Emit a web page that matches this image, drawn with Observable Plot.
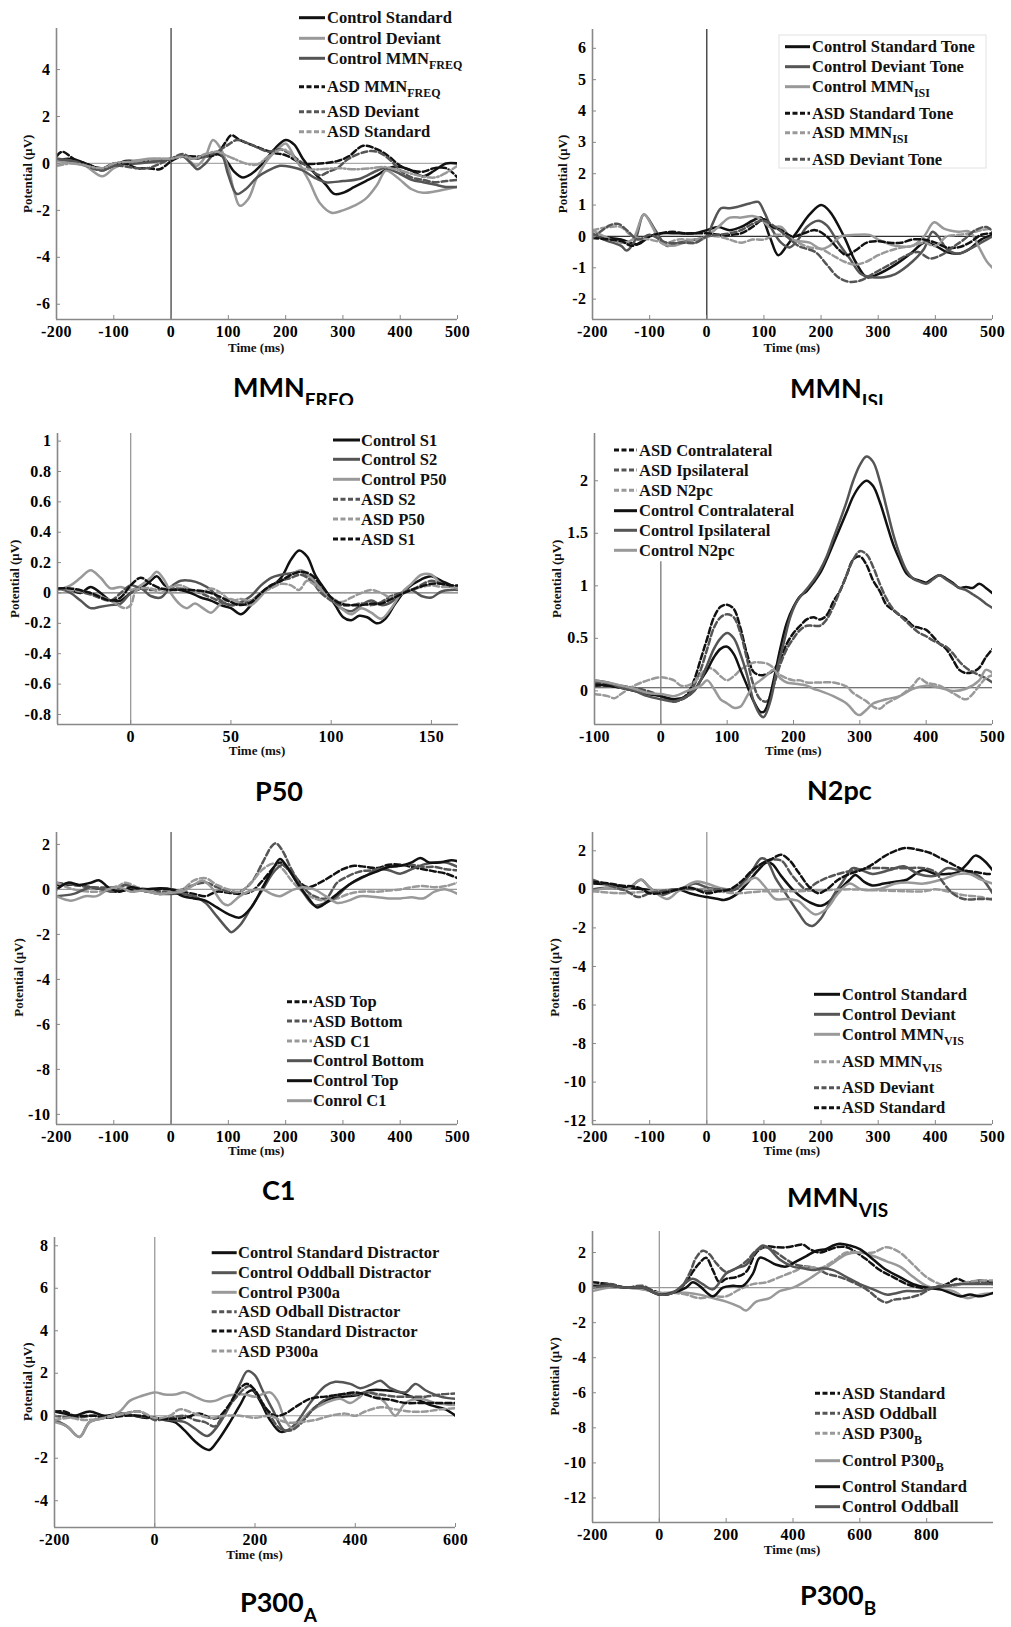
<!DOCTYPE html>
<html><head><meta charset="utf-8">
<script src="https://cdn.jsdelivr.net/npm/d3@7"></script>
<script src="https://cdn.jsdelivr.net/npm/@observablehq/plot@0.6"></script>
<style>
html,body{margin:0;padding:0;background:#fff;}
#page{position:relative;width:1011px;height:1627px;overflow:hidden;background:#fff;}
.panel{position:absolute;}
#overlay{position:absolute;left:0;top:0;pointer-events:none;}
</style></head><body><div id="page"></div>
<script>
// ---------- DATA: [time (ms), potential (µV)] ----------
// MMN FREQ
const freqCtrlStd = [[-200,0.1],[-180,0.2],[-160,0.1],[-140,-0.1],[-120,-0.25],[-100,-0.1],[-80,0.1],[-60,0.1],[-40,0.1],[-20,0.1],[0,0.2],[20,0.3],[40,0.2],[60,0.3],[80,0.4],[90,0.3],[100,0],[110,-0.35],[125,-0.6],[140,-0.45],[160,0],[180,0.6],[200,1.0],[215,0.8],[230,0.2],[250,-0.4],[270,-0.9],[285,-1.3],[300,-1.25],[320,-1.0],[340,-0.75],[360,-0.5],[380,-0.2],[400,-0.15],[420,-0.3],[440,-0.55],[460,-0.3],[480,0],[500,0]];
const freqCtrlDev = [[-200,0.1],[-170,0.0],[-150,-0.1],[-120,-0.55],[-100,-0.2],[-80,0],[-40,0.2],[0,0.2],[20,0.3],[35,0.05],[45,-0.1],[60,0.3],[73,1.0],[85,0.7],[100,-0.2],[110,-1.2],[120,-1.8],[135,-1.5],[150,-0.6],[170,0.2],[190,0.7],[200,0.85],[215,0.3],[240,-0.7],[260,-1.7],[280,-2.1],[300,-2.0],[320,-1.8],[340,-1.5],[360,-0.9],[375,-0.3],[390,-0.5],[400,-0.7],[420,-1.1],[440,-1.25],[460,-1.2],[480,-1.1],[500,-1.0]];
const freqCtrlMMN = [[-200,0.2],[-170,0.1],[-150,0],[-120,-0.3],[-100,-0.1],[-60,0],[-20,0.1],[0,0.2],[20,0.3],[35,0.0],[46,-0.25],[60,0.0],[80,0.5],[90,0.3],[100,-0.5],[115,-1.3],[130,-1.1],[150,-0.6],[170,-0.3],[190,-0.1],[210,-0.15],[230,-0.3],[250,-0.6],[270,-0.8],[300,-0.75],[330,-0.65],[360,-0.3],[375,-0.2],[400,-0.45],[420,-0.7],[440,-0.8],[460,-0.9],[480,-1.0],[500,-1.0]];
const freqAsdMMN = [[-200,0.3],[-190,0.5],[-170,0.2],[-150,0],[-120,-0.2],[-100,0],[-80,0],[-60,-0.2],[-40,-0.2],[-20,-0.25],[-10,-0.1],[0,0.1],[20,0.3],[40,0.3],[60,0.3],[80,0.4],[95,0.9],[105,1.2],[120,1.0],[150,0.7],[180,0.45],[200,0.35],[230,0],[260,0],[290,0.1],[310,0.3],[335,0.75],[360,0.6],[380,0.3],[400,-0.1],[420,-0.3],[440,-0.35],[460,-0.2],[480,-0.2],[500,-0.6]];
const freqAsdDev = [[-200,0.2],[-170,0.1],[-120,-0.3],[-100,-0.1],[-60,-0.2],[-40,-0.2],[0,0.2],[20,0.4],[40,0.2],[60,0.3],[80,0.5],[100,0.8],[115,1.0],[140,0.8],[170,0.5],[190,0.6],[205,0.45],[230,0],[260,-0.5],[275,-0.35],[290,-0.2],[310,0.2],[340,0.5],[360,0.5],[380,0.2],[400,-0.3],[420,-0.6],[440,-0.7],[460,-0.8],[480,-0.75],[500,-0.7]];
const freqAsdStd = [[-200,-0.1],[-170,0],[-120,-0.2],[-100,0],[-60,0.1],[-20,0.2],[0,0.2],[20,0.3],[40,0.2],[60,0.4],[80,0.5],[100,0.3],[110,0.2],[130,0],[150,-0.05],[170,0.3],[195,0.6],[210,0.4],[230,-0.2],[260,-0.25],[290,-0.2],[320,-0.25],[350,-0.2],[370,-0.15],[400,-0.3],[430,-0.5],[460,-0.6],[480,-0.4],[500,-0.1]];
// MMN ISI
const isiCtrlStd = [[-200,0],[-150,-0.1],[-121,-0.25],[-100,0],[-80,0.1],[-50,0.1],[-20,0.1],[0,0.2],[20,0.3],[40,0.2],[60,0.3],[80,0.5],[95,0.6],[110,0],[125,-0.6],[140,-0.3],[160,0.2],[180,0.7],[200,1.0],[215,0.8],[240,0],[260,-0.8],[280,-1.3],[300,-1.2],[330,-0.9],[360,-0.5],[380,-0.2],[400,-0.3],[420,-0.5],[440,-0.55],[460,-0.4],[480,-0.1],[500,0.05]];
const isiCtrlDev = [[-200,0.1],[-180,-0.1],[-150,-0.3],[-140,-0.45],[-125,-0.1],[-110,0.7],[-90,0.2],[-70,-0.3],[-50,-0.2],[-20,-0.1],[0,0],[10,0.4],[25,0.9],[40,0.9],[55,0.95],[75,1.05],[90,1.1],[100,0.8],[115,0.2],[130,-0.2],[145,-0.35],[160,-0.1],[175,0.3],[195,0.5],[210,0.35],[230,-0.2],[250,-0.7],[270,-1.2],[290,-1.3],[310,-1.3],[330,-1.2],[360,-0.8],[380,-0.4],[395,0.15],[405,0],[420,-0.4],[440,-0.55],[460,-0.4],[480,-0.2],[500,0]];
const isiCtrlMMN = [[-200,0.2],[-180,0],[-150,-0.2],[-130,-0.1],[-110,0.7],[-95,0.3],[-80,-0.2],[-60,-0.3],[-40,-0.2],[-20,-0.2],[0,0],[20,0.3],[40,0.6],[60,0.6],[80,0.65],[95,0.55],[110,0.3],[130,0.3],[150,-0.1],[180,-0.2],[200,-0.4],[215,-0.3],[235,0],[260,0.05],[285,0.05],[300,-0.1],[330,-0.3],[360,-0.3],[380,0],[398,0.45],[415,0.25],[440,0.15],[460,0.15],[475,-0.3],[490,-0.8],[500,-1.0]];
const isiAsdStd = [[-200,-0.05],[-150,-0.15],[-130,-0.3],[-100,0],[-80,0.1],[-60,0.15],[-40,0.1],[-20,0.1],[0,0.1],[20,0.05],[40,0.05],[60,0.1],[80,0.3],[100,0.55],[115,0.3],[130,0.2],[150,0],[170,0.1],[190,0.2],[210,0],[230,-0.4],[245,-0.6],[260,-0.45],[280,-0.2],[300,-0.15],[320,-0.2],[340,-0.2],[360,-0.1],[380,-0.1],[400,-0.2],[420,-0.35],[440,-0.35],[460,-0.2],[480,0.05],[500,0.1]];
const isiAsdMMN = [[-200,0.2],[-170,0.3],[-150,0.3],[-130,0],[-100,-0.1],[-70,-0.2],[-50,-0.1],[-20,-0.1],[0,0],[20,0],[40,-0.1],[60,-0.2],[80,-0.1],[100,-0.1],[120,0.05],[140,0],[160,-0.2],[180,-0.35],[200,-0.4],[220,-0.6],[240,-0.8],[260,-0.9],[280,-0.8],[300,-0.6],[330,-0.4],[360,-0.3],[380,-0.2],[400,-0.3],[420,0],[440,0.05],[460,0.1],[480,0.2],[500,0.25]];
const isiAsdDev = [[-200,-0.05],[-170,0.35],[-155,0.4],[-140,0.2],[-120,-0.1],[-100,0.05],[-70,-0.2],[-40,-0.2],[-20,-0.2],[0,0],[20,0.05],[40,0.1],[60,0.2],[80,0.4],[100,0.5],[120,0.3],[140,0],[160,-0.3],[190,-0.5],[210,-0.9],[230,-1.3],[250,-1.45],[270,-1.4],[290,-1.2],[310,-1.0],[330,-0.8],[350,-0.6],[370,-0.5],[390,-0.7],[410,-0.6],[430,-0.35],[450,-0.1],[470,0.2],[490,0.3],[500,0.15]];
// P50
const p50CtrlS1 = [[-36,0.03],[-30,0.02],[-25,0],[-20,0.04],[-15,0],[-10,-0.05],[-5,-0.05],[0,0],[5,0.03],[10,0.08],[13,0.11],[17,0.05],[20,0.03],[25,0.02],[30,0],[35,-0.03],[40,-0.05],[45,-0.08],[50,-0.1],[55,-0.14],[60,-0.08],[65,0],[70,0.04],[75,0.1],[80,0.22],[84,0.28],[88,0.24],[92,0.12],[97,0.02],[102,-0.08],[106,-0.16],[110,-0.18],[114,-0.15],[118,-0.16],[123,-0.2],[127,-0.17],[132,-0.07],[138,0.03],[145,0.09],[150,0.11],[155,0.08],[160,0.05],[163,0.04]];
const p50CtrlS2 = [[-36,0.03],[-30,0],[-25,-0.05],[-20,-0.1],[-15,-0.09],[-10,-0.08],[-5,-0.07],[0,0],[5,0.03],[10,-0.02],[15,-0.03],[20,0.04],[25,0.08],[30,0.08],[35,0.06],[40,0.02],[45,-0.05],[50,-0.08],[55,-0.06],[60,-0.02],[65,0.05],[70,0.1],[75,0.12],[80,0.13],[85,0.14],[90,0.1],[95,0.02],[100,-0.04],[105,-0.1],[110,-0.12],[115,-0.08],[120,-0.05],[125,-0.08],[130,-0.06],[135,0],[140,0.02],[145,-0.02],[150,-0.03],[155,0.01],[160,0.02],[163,0.02]];
const p50CtrlP50 = [[-36,0.02],[-30,0.05],[-25,0.1],[-20,0.15],[-15,0.1],[-10,0.03],[-5,0.04],[0,0.02],[5,0.05],[10,0.1],[13,0.14],[17,0.08],[20,0],[25,-0.08],[28,-0.1],[32,-0.07],[36,-0.1],[40,-0.13],[45,-0.07],[50,-0.04],[55,-0.07],[60,-0.08],[65,-0.02],[70,0.05],[75,0.08],[80,0.12],[85,0.15],[90,0.1],[95,0.03],[100,-0.04],[105,-0.1],[110,-0.14],[115,-0.1],[120,-0.13],[125,-0.17],[130,-0.1],[135,0],[140,0.06],[145,0.12],[150,0.12],[155,0.06],[160,0.04],[163,0.03]];
const p50AsdS2 = [[-36,0.03],[-30,0.02],[-20,-0.01],[-10,-0.05],[-5,0],[0,0.05],[5,0.03],[10,0.02],[20,0.03],[30,0.02],[40,-0.03],[50,-0.08],[55,-0.07],[60,-0.05],[65,0],[70,0.05],[75,0.08],[80,0.1],[85,0.12],[90,0.08],[95,0],[100,-0.05],[105,-0.08],[110,-0.08],[115,-0.07],[120,-0.08],[125,-0.06],[130,-0.02],[140,0.02],[150,0.08],[155,0.06],[160,0.04],[163,0.04]];
const p50AsdP50 = [[-36,0.03],[-30,0.02],[-20,0],[-10,-0.05],[-3,-0.1],[0,-0.08],[3,0.02],[10,0.03],[15,0],[20,0.04],[25,0.05],[30,0.02],[35,0],[40,0.03],[45,0],[50,-0.05],[55,-0.04],[60,-0.05],[65,0],[70,0.03],[75,0.06],[80,0.05],[84,0.02],[88,0.08],[92,0.05],[97,0],[100,-0.03],[105,-0.06],[110,-0.03],[115,0],[120,0.02],[125,0],[130,-0.03],[140,0.02],[150,0.05],[155,0.04],[160,0.04],[163,0.04]];
const p50AsdS1 = [[-36,0.03],[-30,0.03],[-20,0],[-10,-0.05],[-5,-0.03],[0,0.05],[5,0.1],[10,0.06],[15,0.03],[20,0.02],[30,0.02],[40,0],[50,-0.06],[55,-0.08],[60,-0.06],[65,0],[70,0.05],[75,0.08],[80,0.12],[85,0.14],[90,0.12],[95,0.05],[100,-0.03],[105,-0.07],[110,-0.08],[115,-0.08],[120,-0.07],[125,-0.07],[130,-0.04],[140,0.02],[150,0.06],[155,0.06],[160,0.05],[163,0.05]];
// N2pc
const n2pcAsdContra = [[-100,0.05],[-80,0.05],[-60,0.03],[-40,0.02],[-20,-0.02],[0,-0.05],[10,-0.08],[20,-0.1],[30,-0.08],[40,-0.03],[50,0.1],[60,0.3],[70,0.5],[80,0.7],[90,0.8],[100,0.82],[110,0.78],[120,0.6],[130,0.35],[140,0.18],[150,0.15],[160,0.16],[170,0.2],[180,0.3],[190,0.45],[200,0.55],[210,0.62],[220,0.68],[230,0.7],[240,0.68],[250,0.72],[260,0.85],[270,0.95],[280,1.1],[290,1.25],[300,1.28],[310,1.2],[320,1.05],[330,0.95],[340,0.82],[350,0.77],[360,0.72],[370,0.68],[380,0.62],[390,0.6],[400,0.58],[410,0.52],[420,0.45],[430,0.4],[440,0.3],[450,0.2],[460,0.17],[470,0.18],[480,0.22],[490,0.32],[500,0.4]];
const n2pcAsdIpsi = [[-100,0.08],[-60,0.05],[-20,0],[0,-0.05],[20,-0.1],[40,-0.05],[50,0.05],[60,0.2],[70,0.4],[80,0.6],[90,0.7],[100,0.73],[110,0.7],[120,0.55],[130,0.3],[140,0.05],[150,-0.08],[160,-0.1],[170,0.05],[180,0.25],[190,0.4],[200,0.5],[210,0.58],[220,0.62],[230,0.62],[240,0.62],[250,0.68],[260,0.8],[270,0.95],[280,1.1],[290,1.25],[300,1.33],[310,1.3],[320,1.18],[330,1.02],[340,0.88],[350,0.78],[360,0.72],[370,0.66],[380,0.6],[390,0.55],[400,0.52],[410,0.48],[420,0.45],[430,0.42],[440,0.36],[450,0.28],[460,0.22],[470,0.18],[480,0.15],[490,0.12],[500,0.08]];
const n2pcAsdN2pc = [[-100,-0.03],[-80,-0.05],[-70,-0.07],[-60,-0.03],[-40,0.05],[-20,0.1],[0,0.13],[10,0.12],[20,0.1],[30,0.05],[40,0.05],[50,0.08],[60,0.15],[70,0.22],[80,0.2],[90,0.14],[100,0.1],[110,0.14],[120,0.2],[130,0.24],[140,0.27],[150,0.27],[160,0.26],[170,0.22],[180,0.15],[190,0.12],[200,0.1],[210,0.1],[220,0.08],[240,0.08],[260,0.08],[280,0.04],[290,-0.02],[300,-0.06],[310,-0.1],[320,-0.15],[330,-0.17],[340,-0.12],[360,-0.05],[380,0.05],[390,0.12],[400,0.08],[420,0.05],[440,-0.02],[460,-0.08],[470,-0.03],[480,0.05],[490,0.12],[500,0.15]];
const n2pcCtrlContra = [[-100,0.06],[-80,0.05],[-60,0.03],[-40,0],[-20,-0.03],[0,-0.05],[20,-0.08],[40,-0.05],[50,0],[60,0.1],[70,0.2],[80,0.32],[90,0.4],[100,0.42],[110,0.35],[120,0.2],[130,0.05],[140,-0.1],[150,-0.2],[155,-0.2],[160,-0.15],[170,0.1],[180,0.4],[190,0.65],[200,0.8],[210,0.9],[220,0.95],[230,1.03],[240,1.12],[250,1.25],[260,1.4],[270,1.55],[280,1.7],[290,1.85],[300,1.95],[310,2.0],[320,1.95],[330,1.8],[340,1.6],[350,1.4],[360,1.25],[370,1.12],[380,1.07],[390,1.05],[400,1.03],[410,1.07],[420,1.1],[430,1.07],[440,1.03],[450,0.98],[460,0.99],[470,0.98],[480,1.02],[490,0.98],[500,0.93]];
const n2pcCtrlIpsi = [[-100,0.1],[-80,0.08],[-60,0.03],[-40,0],[-20,-0.05],[0,-0.08],[20,-0.1],[40,-0.05],[50,0],[60,0.1],[70,0.25],[80,0.4],[90,0.5],[100,0.55],[110,0.5],[120,0.35],[130,0.15],[140,-0.1],[150,-0.23],[155,-0.25],[165,-0.1],[175,0.2],[185,0.45],[195,0.7],[205,0.85],[220,0.97],[230,1.05],[240,1.15],[250,1.28],[260,1.45],[270,1.62],[280,1.8],[290,2.0],[300,2.15],[310,2.23],[320,2.18],[330,2.0],[340,1.75],[350,1.5],[360,1.3],[370,1.15],[380,1.07],[390,1.04],[400,1.02],[410,1.06],[420,1.1],[430,1.06],[440,1.02],[450,0.98],[460,0.96],[470,0.92],[480,0.88],[490,0.83],[500,0.79]];
const n2pcCtrlN2pc = [[-100,0.1],[-80,0.08],[-60,0.05],[-40,0.02],[-20,-0.02],[0,-0.03],[20,-0.05],[40,0],[60,0.05],[70,0.1],[80,0.02],[90,-0.08],[100,-0.12],[110,-0.16],[120,-0.15],[130,-0.05],[140,0.05],[150,0.1],[160,0.15],[170,0.2],[180,0.12],[190,0.08],[200,0.07],[220,0.05],[230,0.02],[240,0],[260,-0.05],[280,-0.12],[295,-0.22],[300,-0.23],[310,-0.18],[320,-0.12],[340,-0.08],[360,-0.05],[380,0.02],[400,0.05],[420,0.03],[440,0],[460,0.02],[480,0.1],[490,0.2],[500,0.17]];
const n2pcBaseline = 0.03;
// C1
const c1AsdTop = [[-200,0.2],[-170,0.2],[-140,0.1],[-120,0],[-100,-0.1],[-80,-0.05],[-60,0],[-40,-0.05],[-20,0],[0,0],[20,-0.1],[40,-0.2],[60,-0.3],[80,-0.1],[100,-0.15],[120,-0.2],[140,-0.1],[160,0.4],[180,1.0],[190,1.2],[200,1.0],[215,0.6],[230,0.2],[240,0.1],[260,0.3],[280,0.6],[300,0.9],[320,1.05],[340,1.0],[360,0.95],[380,1.1],[400,1.1],[420,1.0],[440,0.9],[460,0.8],[480,0.7],[500,0.5]];
const c1AsdBottom = [[-200,0.3],[-170,0.2],[-140,0.1],[-100,0.1],[-80,0.2],[-60,0],[-40,-0.1],[-20,-0.1],[0,-0.1],[20,0],[40,0.2],[60,0.3],[80,0.1],[100,-0.1],[120,-0.1],[140,0.3],[160,1.2],[175,1.9],[183,2.05],[195,1.7],[210,0.9],[230,0.1],[250,-0.3],[270,-0.4],[290,0.3],[310,0.6],[330,0.8],[350,0.85],[370,0.95],[400,1.05],[420,1.1],[440,1.0],[460,1.0],[480,0.9],[500,0.85]];
const c1AsdC1 = [[-200,0.3],[-170,0],[-140,-0.1],[-100,0],[-80,0.3],[-60,0.1],[-40,0],[-20,-0.2],[0,-0.1],[20,0],[40,0.4],[60,0.5],[80,0.2],[100,0],[120,-0.1],[140,0.3],[160,0.9],[180,1.15],[195,0.9],[210,0.4],[230,-0.1],[250,-0.4],[270,-0.5],[290,-0.4],[310,-0.2],[330,-0.1],[360,-0.1],[380,-0.05],[400,0],[420,0.1],[440,0.15],[460,0.1],[480,0.15],[500,0.3]];
const c1CtrlBottom = [[-200,-0.3],[-170,-0.2],[-140,0.1],[-120,0],[-100,-0.1],[-80,0.2],[-60,0],[-40,-0.1],[-20,-0.2],[0,-0.2],[20,-0.2],[40,-0.3],[60,-0.6],[80,-1.2],[100,-1.8],[105,-1.9],[120,-1.6],[140,-0.8],[160,0],[180,0.8],[195,1.1],[210,0.7],[230,-0.1],[250,-0.7],[270,-0.6],[290,-0.3],[310,0.2],[340,0.6],[360,0.9],[380,0.85],[400,0.7],[420,0.9],[440,1.1],[460,1.2],[480,1.2],[500,1.0]];
const c1CtrlTop = [[-200,0],[-180,0.3],[-160,0.2],[-140,0.3],[-125,0.4],[-110,0.1],[-90,-0.1],[-70,0.1],[-50,0],[-20,0.05],[0,0],[20,-0.3],[40,-0.4],[60,-0.5],[80,-0.8],[100,-1.1],[120,-1.25],[140,-0.8],[160,0.1],[180,1.0],[190,1.35],[200,1.1],[220,0.3],[240,-0.4],[255,-0.8],[270,-0.6],[290,-0.2],[310,0.2],[330,0.5],[360,0.8],[380,1.0],[400,1.05],[420,1.2],[435,1.4],[450,1.2],[470,1.2],[490,1.3],[500,1.25]];
const c1CtrlC1 = [[-200,-0.3],[-175,-0.5],[-150,-0.3],[-130,-0.3],[-110,0],[-90,0.1],[-70,-0.1],[-50,-0.05],[-20,-0.2],[0,-0.15],[20,-0.1],[40,0.2],[55,0.4],[70,0.1],[90,-0.6],[100,-0.7],[120,-0.3],[140,-0.05],[160,0],[175,-0.2],[190,-0.3],[210,-0.05],[230,0.1],[250,0],[270,-0.3],[290,-0.6],[310,-0.5],[330,-0.3],[360,-0.35],[380,-0.4],[400,-0.4],[420,-0.35],[440,-0.4],[460,-0.1],[480,0],[500,-0.2]];
// MMN VIS
const visCtrlStd = [[-200,0.3],[-170,0.25],[-140,0.1],[-110,0],[-80,-0.1],[-50,0],[-30,-0.2],[-10,-0.35],[0,-0.4],[20,-0.5],[30,-0.55],[50,-0.3],[70,0.3],[90,1.0],[105,1.4],[115,1.3],[130,0.7],[150,0],[170,-0.5],[190,-0.8],[200,-0.85],[215,-0.6],[230,-0.1],[250,0.5],[260,0.75],[275,0.4],[290,0.2],[310,0.3],[330,0.4],[350,0.5],[370,0.9],[380,1.0],[400,0.8],[420,0.8],[440,0.9],[455,1.3],[470,1.75],[485,1.5],[500,1.0]];
const visCtrlDev = [[-200,0],[-170,0.1],[-140,0],[-115,0.5],[-100,0.1],[-80,-0.3],[-60,-0.1],[-40,0.1],[-20,0.3],[0,0.1],[20,0],[40,-0.1],[60,0.2],[80,1.0],[95,1.6],[105,1.5],[120,0.6],[140,-0.3],[160,-1.2],[175,-1.8],[185,-1.9],[200,-1.5],[220,-0.4],[240,0.5],[255,1.1],[270,1.0],[290,0.8],[320,1.0],[345,1.2],[370,0.8],[400,0.7],[420,1.1],[440,1.0],[460,0.9],[480,0.6],[500,-0.2]];
const visCtrlMMN = [[-200,-0.1],[-170,0.1],[-140,0],[-115,0.5],[-100,0.1],[-70,-0.5],[-50,-0.1],[-20,0.4],[0,0.3],[20,0.1],[40,0],[60,0.2],[85,0.6],[100,0.2],[120,-0.5],[140,-0.5],[160,-0.6],[175,-1.0],[190,-1.3],[210,-1.0],[230,-0.2],[250,0.3],[270,0],[300,0],[330,0.3],[350,0.35],[380,0.3],[410,0.5],[440,0.8],[460,0.8],[480,0.5],[500,0.3]];
const visAsdMMN = [[-200,-0.1],[-150,-0.2],[-100,-0.1],[-50,0],[0,0],[50,-0.2],[100,-0.1],[150,-0.1],[200,-0.05],[250,0],[300,-0.05],[350,-0.1],[380,-0.1],[400,0],[420,-0.1],[450,-0.3],[480,-0.4],[500,-0.55]];
const visAsdDev = [[-200,0.5],[-170,0.2],[-140,-0.1],[-120,-0.4],[-100,-0.2],[-80,-0.1],[-50,0],[-20,0],[0,-0.1],[20,0],[50,0],[70,0.6],[90,1.2],[110,1.5],[130,1.5],[150,0.7],[175,0],[190,0.3],[210,0.6],[230,0.8],[260,1.0],[290,1.1],[320,1.1],[350,1.1],[380,1.1],[400,0.9],[410,0.5],[430,-0.2],[450,-0.5],[480,-0.5],[500,-0.5]];
const visAsdStd = [[-200,0.4],[-170,0.3],[-150,0.2],[-120,0.1],[-100,-0.2],[-80,-0.2],[-50,0],[-30,0.1],[0,-0.2],[20,-0.1],[40,0],[60,0.4],[80,1.0],[100,1.4],[115,1.6],[130,1.8],[145,1.5],[160,0.9],[180,0.1],[195,-0.2],[210,0],[230,0.5],[250,0.8],[270,1.0],[290,1.3],[310,1.7],[330,2.0],[350,2.15],[370,2.05],[390,1.9],[410,1.6],[430,1.3],[450,1.0],[470,0.9],[490,0.8],[500,0.8]];
// P300 A
const paCtrlStd = [[-200,0.2],[-180,0.1],[-160,0],[-130,0.2],[-100,0],[-70,0.1],[-40,0],[-20,-0.1],[0,-0.1],[20,-0.2],[40,-0.3],[60,-0.7],[80,-1.2],[100,-1.55],[110,-1.6],[125,-1.2],[150,-0.3],[170,0.5],[185,1.1],[195,1.2],[210,0.7],[230,-0.2],[250,-0.75],[265,-0.7],[290,-0.3],[320,0.4],[350,0.8],[380,0.9],[410,1.0],[430,1.2],[460,1.2],[490,1.1],[520,0.8],[550,0.5],[580,0.3],[600,0]];
const paCtrlOdd = [[-200,-0.2],[-175,-0.5],[-150,-1.0],[-130,-0.3],[-100,-0.1],[-70,0.1],[-40,0],[0,-0.1],[30,-0.2],[60,-0.3],[80,-0.6],[105,-0.95],[125,-0.5],[150,0.5],[170,1.5],[185,2.1],[200,1.9],[215,1.2],[235,0.3],[260,-0.7],[280,-0.4],[310,0.6],[340,1.4],[360,1.6],[390,1.5],[410,1.3],[430,1.45],[450,1.65],[470,1.3],[500,1.1],[520,1.5],[540,1.2],[570,0.9],[600,0.8]];
const paCtrlP3a = [[-200,-0.3],[-175,-0.5],[-150,-1.0],[-130,-0.3],[-100,-0.1],[-70,0.2],[-50,0.7],[-30,0.9],[0,1.1],[20,1.0],[40,1.0],[60,1.1],[80,0.9],[100,0.7],[120,0.7],[140,0.9],[160,1.0],[180,1.0],[200,0.9],[230,1.1],[245,0.7],[260,-0.2],[275,-0.6],[290,-0.3],[310,0.2],[340,0.6],[370,0.8],[390,0.6],[410,0.9],[420,1.1],[440,1.0],[460,0.6],[480,0],[500,0.6],[530,0.8],[560,0.6],[600,0.5]];
const paAsdOdd = [[-200,0],[-160,-0.1],[-120,0],[-100,-0.1],[-60,0.1],[-30,0.2],[0,-0.2],[30,-0.1],[60,0],[80,-0.2],[100,-0.3],[120,-0.5],[140,0.2],[160,0.8],[180,1.3],[190,1.4],[210,0.8],[230,0],[250,-0.6],[270,-0.7],[290,-0.4],[320,0.4],[350,0.9],[380,1.0],[400,1.0],[420,1.1],[450,1.0],[480,0.9],[510,0.9],[540,0.9],[570,1.0],[600,1.05]];
const paAsdStd = [[-200,0.2],[-180,0.2],[-160,0],[-120,0],[-100,-0.1],[-60,0],[-30,0],[0,-0.1],[30,-0.15],[60,-0.1],[90,0.1],[110,-0.1],[125,-0.1],[145,0.4],[170,1.3],[185,1.5],[200,1.2],[220,0.4],[240,0],[260,0.1],[280,0.4],[310,0.8],[340,0.9],[370,1.0],[400,1.1],[420,1.0],[440,0.85],[470,0.75],[500,0.6],[530,0.6],[560,0.6],[600,0.6]];
const paAsdP3a = [[-200,-0.2],[-170,-0.1],[-140,-0.2],[-100,-0.1],[-60,0.1],[-30,0.2],[0,-0.1],[30,0],[50,0.3],[80,0.1],[110,-0.1],[140,0],[170,0],[200,-0.1],[230,0],[260,-0.3],[290,-0.3],[320,-0.2],[350,0],[380,0.1],[400,0],[420,0.2],[450,0.4],[480,0.3],[510,0.2],[540,0.2],[570,0.3],[600,0.35]];
// P300 B
const pbAsdStd = [[-200,0.3],[-150,0.2],[-100,0],[-50,0],[0,-0.3],[20,-0.4],[50,-0.2],[80,0.3],[100,0.9],[120,1.4],[140,1.7],[160,1.0],[180,0.3],[200,0.5],[230,0.6],[260,0.9],[290,2.0],[320,2.35],[350,2.3],[380,2.3],[410,2.4],[430,2.45],[450,2.2],[480,2.0],[500,2.1],[530,2.3],[560,2.3],[590,2.0],[620,1.6],[660,1.0],[700,0.6],[740,0.2],[780,0],[820,0],[860,0.2],[890,0.5],[920,0.3],[960,0.4],[1000,0.3]];
const pbAsdOdd = [[-200,0],[-150,0.2],[-100,0],[-50,0.1],[0,-0.4],[30,-0.3],[60,-0.1],[90,0.8],[110,1.7],[130,2.1],[150,1.9],[170,1.4],[200,0.9],[230,1.1],[260,1.5],[290,2.1],[320,2.3],[350,2.0],[380,1.6],[410,1.3],[440,1.2],[470,1.1],[500,0.8],[540,0.6],[580,0.3],[620,-0.1],[660,-0.7],[680,-0.85],[700,-0.7],[740,-0.6],[780,-0.4],[820,0],[860,0.1],[900,0.2],[950,0.3],[1000,0.2]];
const pbAsdP3b = [[-200,0],[-150,0],[-100,0],[-50,-0.1],[0,-0.3],[40,-0.3],[80,-0.4],[120,-0.6],[160,-0.5],[200,-0.5],[240,-0.1],[280,0.2],[320,0.3],[360,0.6],[400,0.9],[440,1.2],[480,1.1],[520,1.5],[560,2.0],[600,2.0],[640,2.0],[680,2.3],[720,2.0],[760,1.3],[800,0.6],[840,0.2],[880,0.1],[920,0.3],[960,0.4],[1000,0.4]];
const pbCtrlP3b = [[-200,-0.2],[-150,0],[-100,0],[-50,-0.1],[0,-0.3],[40,-0.3],[80,-0.3],[120,-0.4],[160,-0.6],[200,-0.8],[240,-1.1],[260,-1.3],[290,-0.8],[330,-0.6],[360,-0.2],[400,0],[440,0.4],[480,0.9],[520,1.4],[560,1.9],[600,2.0],[640,1.8],[680,1.5],[720,1.2],[760,0.6],[800,0.1],[840,-0.1],[880,-0.2],[920,-0.6],[960,-0.4],[1000,-0.3]];
const pbCtrlStd = [[-200,0.1],[-150,0.1],[-100,0],[-50,0],[0,-0.4],[40,-0.3],[80,0],[100,0.3],[120,0.1],[160,-0.5],[190,0],[220,0.1],[250,0.1],[280,0.8],[300,1.7],[320,1.6],[350,1.3],[380,1.2],[410,1.5],[440,1.8],[470,2.1],[500,2.2],[520,2.4],[540,2.5],[570,2.4],[600,2.2],[640,1.6],[680,1.0],[720,0.6],[760,0.2],[800,0],[840,-0.1],[870,-0.3],[900,-0.5],[930,-0.4],[960,-0.5],[1000,-0.3]];
const pbCtrlOdd = [[-200,0],[-150,0.1],[-100,0],[-50,0],[0,-0.4],[40,-0.3],[80,0.3],[100,0.5],[130,0.2],[160,-0.1],[200,0.8],[230,1.1],[260,1.3],[290,2.1],[310,2.4],[330,2.2],[360,1.6],[400,1.2],[430,1.1],[460,1.0],[490,1.1],[520,1.0],[560,0.6],[600,0.2],[640,-0.1],[680,-0.4],[700,-0.35],[740,-0.2],[780,-0.2],[820,0],[860,0.1],[900,0.2],[950,0.2],[1000,0.2]];

// tick values
const ticks700 = [-200,-100,0,100,200,300,400,500];
const freqYTicks = [-6,-4,-2,0,2,4];
const isiYTicks = [-2,-1,0,1,2,3,4,5,6];
const p50XTicks = [0,50,100,150];
const p50YTicks = [-0.8,-0.6,-0.4,-0.2,0,0.2,0.4,0.6,0.8,1];
const n2pcXTicks = [-100,0,100,200,300,400,500];
const n2pcYTicks = [0,0.5,1,1.5,2];
const c1YTicks = [-10,-8,-6,-4,-2,0,2];
const visYTicks = [-12,-10,-8,-6,-4,-2,0,2];
const paXTicks = [-200,0,200,400,600];
const paYTicks = [-4,-2,0,2,4,6,8];
const pbXTicks = [-200,0,200,400,600,800];
const pbYTicks = [-12,-10,-8,-6,-4,-2,0,2];

// ---------- STYLES ----------
const BLACK = "#111", DARK = "#555", LIGHT = "#999";
const DASH = "6,3", DASHDOT = "7,2.5,1.5,2.5";
const SERIF = "'Liberation Serif','Times New Roman',serif";
const s = (name, sub, pts, color, dash) => ({name, sub, pts, color, dash});

const panels = [
  {frame:[55.7,28.3,456.7,319.3], x:[-200,500], y:[-6.65,5.75], xt:ticks700, yt:freqYTicks,
   zeroColor:"#aaa", vColor:"#444",
   series:[s("Control Standard","",freqCtrlStd,BLACK,null), s("Control Deviant","",freqCtrlDev,LIGHT,null), s("Control MMN","FREQ",freqCtrlMMN,DARK,null),
           s("ASD MMN","FREQ",freqAsdMMN,BLACK,DASH), s("ASD Deviant","",freqAsdDev,DARK,DASH), s("ASD Standard","",freqAsdStd,LIGHT,DASHDOT)],
   legend:{x0:299,x1:325,tx:327,rows:[17.7,38.3,58.3,86.7,111.7,131.7]},
   title:{main:"MMN",sub:"FREQ",x:233,y:397,clip:405}, ylab:28, xlab:347},
  {frame:[591.7,29,992,319], x:[-200,500], y:[-2.65,6.6], xt:ticks700, yt:isiYTicks,
   zeroColor:"#333", vColor:"#333",
   series:[s("Control Standard Tone","",isiCtrlStd,BLACK,null), s("Control Deviant Tone","",isiCtrlDev,DARK,null), s("Control MMN","ISI",isiCtrlMMN,LIGHT,null),
           s("ASD Standard Tone","",isiAsdStd,BLACK,DASH), s("ASD MMN","ISI",isiAsdMMN,LIGHT,DASH), s("ASD Deviant Tone","",isiAsdDev,DARK,DASH)],
   legend:{x0:785,x1:810,tx:812,rows:[46.7,66.7,86.7,113.3,132.7,159.3],box:[779,35,986,168]},
   title:{main:"MMN",sub:"ISI",x:790,y:398,clip:405}, ylab:29, xlab:347},
  {frame:[56.7,433.3,457.3,724.3], x:[-36.5,163.5], y:[-0.866,1.05], xt:p50XTicks, yt:p50YTicks,
   zeroColor:"#777", vColor:"#999",
   series:[s("Control S1","",p50CtrlS1,BLACK,null), s("Control S2","",p50CtrlS2,DARK,null), s("Control P50","",p50CtrlP50,LIGHT,null),
           s("ASD S2","",p50AsdS2,DARK,DASH), s("ASD P50","",p50AsdP50,LIGHT,DASH), s("ASD S1","",p50AsdS1,BLACK,DASH)],
   legend:{x0:333,x1:360,tx:361,rows:[440,459.3,479.3,499.3,519,539]},
   title:{main:"P50",sub:"",x:255,y:801}, ylab:42, xlab:750},
  {frame:[594.3,433.3,992.3,724.3], x:[-100,500], y:[-0.32,2.45], xt:n2pcXTicks, yt:n2pcYTicks,
   zero:n2pcBaseline, zeroColor:"#444", vColor:"#777", vTo:1.23,
   series:[s("ASD Contralateral","",n2pcAsdContra,BLACK,DASH), s("ASD Ipsilateral","",n2pcAsdIpsi,DARK,DASH), s("ASD N2pc","",n2pcAsdN2pc,LIGHT,DASH),
           s("Control Contralateral","",n2pcCtrlContra,BLACK,null), s("Control Ipsilateral","",n2pcCtrlIpsi,DARK,null), s("Control N2pc","",n2pcCtrlN2pc,LIGHT,null)],
   legend:{x0:614,x1:637,tx:639,rows:[450,470,490.3,510.7,530.3,550.3]},
   title:{main:"N2pc",sub:"",x:807,y:800}, ylab:38, xlab:750},
  {frame:[55.7,831.7,456.7,1123.3], x:[-200,500], y:[-10.45,2.53], xt:ticks700, yt:c1YTicks,
   zeroColor:"#999", vColor:"#555",
   series:[s("ASD Top","",c1AsdTop,BLACK,DASH), s("ASD Bottom","",c1AsdBottom,DARK,DASH), s("ASD C1","",c1AsdC1,LIGHT,DASH),
           s("Control Bottom","",c1CtrlBottom,DARK,null), s("Control Top","",c1CtrlTop,BLACK,null), s("Conrol C1","",c1CtrlC1,LIGHT,null)],
   legend:{x0:287,x1:312,tx:313,rows:[1001.7,1021,1041,1060.7,1080.7,1100.7]},
   title:{main:"C1",sub:"",x:262,y:1200}, ylab:37, xlab:1150},
  {frame:[591.7,831.7,992,1123.3], x:[-200,500], y:[-12.2,2.95], xt:ticks700, yt:visYTicks,
   zeroColor:"#999", vColor:"#999",
   series:[s("Control Standard","",visCtrlStd,BLACK,null), s("Control Deviant","",visCtrlDev,DARK,null), s("Control MMN","VIS",visCtrlMMN,LIGHT,null),
           s("ASD MMN","VIS",visAsdMMN,LIGHT,DASH), s("ASD Deviant","",visAsdDev,DARK,DASH), s("ASD Standard","",visAsdStd,BLACK,DASH)],
   legend:{x0:814,x1:840,tx:842,rows:[994.3,1014.3,1034.3,1061.7,1087.7,1107.7]},
   title:{main:"MMN",sub:"VIS",x:787,y:1207}, ylab:37, xlab:1150},
  {frame:[54,1236.7,455,1526.7], x:[-200,600], y:[-5.26,8.39], xt:paXTicks, yt:paYTicks,
   zeroColor:"#999", vColor:"#999",
   series:[s("Control Standard Distractor","",paCtrlStd,BLACK,null), s("Control Oddball Distractor","",paCtrlOdd,DARK,null), s("Control P300a","",paCtrlP3a,LIGHT,null),
           s("ASD Odball Distractor","",paAsdOdd,DARK,DASH), s("ASD Standard Distractor","",paAsdStd,BLACK,DASH), s("ASD P300a","",paAsdP3a,LIGHT,DASH)],
   legend:{x0:211.7,x1:236.7,tx:238,rows:[1252.7,1272.7,1292.3,1311.7,1331,1351]},
   title:{main:"P300",sub:"A",x:240,y:1612}, ylab:27, xlab:1554},
  {frame:[591.7,1231,992.3,1521.7], x:[-200,1000], y:[-13.4,3.2], xt:pbXTicks, yt:pbYTicks,
   zeroColor:"#999", vColor:"#999",
   series:[s("ASD Standard","",pbAsdStd,BLACK,DASH), s("ASD Oddball","",pbAsdOdd,DARK,DASH), s("ASD P300","B",pbAsdP3b,LIGHT,DASH),
           s("Control P300","B",pbCtrlP3b,LIGHT,null), s("Control Standard","",pbCtrlStd,BLACK,null), s("Control Oddball","",pbCtrlOdd,DARK,null)],
   legend:{x0:815,x1:840,tx:842,rows:[1393.3,1413.3,1433.3,1460.7,1486.7,1506.7]},
   title:{main:"P300",sub:"B",x:800,y:1605}, ylab:37, xlab:1549}
];

const page = document.getElementById("page");
const mL = 60, mR = 14, mT = 10, mB = 40;
for (const p of panels) {
  const [L,T,R,B] = p.frame;
  const fw = Math.round(R-L), fh = Math.round(B-T);
  const marks = [
    Plot.ruleY([p.zero ?? 0], {stroke: p.zeroColor, strokeWidth: 1.2}),
    Plot.ruleX([0], {y1: p.y[0], y2: p.vTo ?? p.y[1], stroke: p.vColor, strokeWidth: 1.3}),
    ...p.series.map(se => Plot.line(se.pts, {x: d => d[0], y: d => d[1], stroke: se.color, strokeWidth: 2.5,
        strokeDasharray: se.dash || undefined, curve: "catmull-rom", clip: true})),
    Plot.ruleX([p.x[0]], {stroke: "#888", strokeWidth: 1.6}),
    Plot.ruleY([p.y[0]], {stroke: "#888", strokeWidth: 1.6}),
    Plot.axisX(p.xt, {tickSize: -4, tickPadding: 10, stroke: "#888", fill: "#000", tickFormat: d => String(d), label: null}),
    Plot.axisY(p.yt, {tickSize: -4, tickPadding: 10, stroke: "#888", fill: "#000", tickFormat: d => String(d), label: null})
  ];
  const svg = Plot.plot({
    width: fw + mL + mR, height: fh + mT + mB,
    marginLeft: mL, marginRight: mR, marginTop: mT, marginBottom: mB,
    x: {domain: p.x}, y: {domain: p.y},
    marks,
    style: {background: "transparent", fontFamily: SERIF, fontSize: "16px", fontWeight: "bold", letterSpacing: "0.4px", color: "#000", overflow: "visible"}
  });
  const div = document.createElement("div");
  div.className = "panel";
  div.style.left = (L - mL) + "px";
  div.style.top = (T - mT) + "px";
  div.appendChild(svg);
  page.appendChild(div);
}

// ---------- overlay: titles, axis labels, legends ----------
const ov = d3.select(page).append("svg").attr("id","overlay").attr("width",1011).attr("height",1627);
const defs = ov.append("defs");
panels.forEach((p, i) => {
  const [L,T,R,B] = p.frame;
  // axis labels
  ov.append("text").attr("x",(L+R)/2).attr("y",p.xlab+4.5).attr("text-anchor","middle")
    .attr("font-family",SERIF).attr("font-weight","bold").attr("font-size",13).attr("fill","#111").text("Time (ms)");
  ov.append("text").attr("transform",`translate(${L - p.ylab + 4.5},${(T+B)/2}) rotate(-90)`).attr("text-anchor","middle")
    .attr("font-family",SERIF).attr("font-weight","bold").attr("font-size",13).attr("fill","#111").text("Potential (\u03bcV)");
  // legend
  const lg = p.legend;
  if (lg.box) ov.append("rect").attr("x",lg.box[0]).attr("y",lg.box[1]).attr("width",lg.box[2]-lg.box[0]).attr("height",lg.box[3]-lg.box[1])
      .attr("fill","#fff").attr("stroke","#e2e2e2").attr("stroke-width",1);
  p.series.forEach((se, k) => {
    const y = lg.rows[k];
    ov.append("line").attr("x1",lg.x0).attr("x2",lg.x1).attr("y1",y).attr("y2",y)
      .attr("stroke",se.color).attr("stroke-width",3).attr("stroke-dasharray",se.dash ? "5,2.5" : null);
    const t = ov.append("text").attr("x",lg.tx).attr("y",y+5.5).attr("font-family",SERIF).attr("font-weight","bold")
      .attr("font-size",16.5).attr("fill","#111").text(se.name);
    if (se.sub) t.append("tspan").attr("font-size",12).attr("dy",5).text(se.sub);
  });
  // title
  const tt = p.title;
  const g = ov.append("g");
  if (tt.clip) {
    defs.append("clipPath").attr("id","clip"+i).append("rect").attr("x",0).attr("y",0).attr("width",1011).attr("height",tt.clip);
    g.attr("clip-path",`url(#clip${i})`);
  }
  const tx = g.append("text").attr("x",tt.x).attr("y",tt.y).attr("font-family","Lato, 'Open Sans', sans-serif")
    .attr("font-weight",700).attr("font-size",27).attr("fill","#000").text(tt.main);
  if (tt.sub) tx.append("tspan").attr("font-size",19).attr("dy",10).text(tt.sub);
});
</script></body></html>
